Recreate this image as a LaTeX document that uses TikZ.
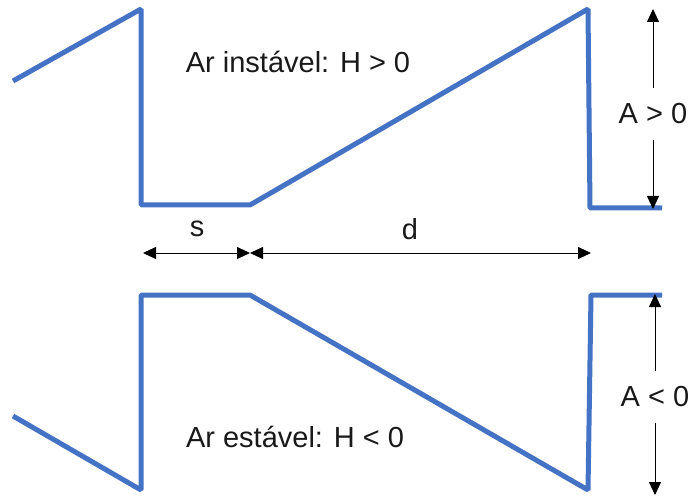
\documentclass[tikz,border=0pt]{standalone}
\usepackage{fontspec}
\setmainfont{Liberation Sans}
\usetikzlibrary{arrows.meta}
\definecolor{wave}{HTML}{4472C4}
\tikzset{
  wavy/.style={draw=wave, line width=5pt, line join=bevel},
  dim/.style={draw=black, line width=0.9pt, -{Triangle[length=13pt,width=12pt]}},
  dimboth/.style={draw=black, line width=0.9pt, {Triangle[length=13pt,width=12pt]}-{Triangle[length=13pt,width=12pt]}},
  lbl/.style={font=\fontsize{29}{32}\selectfont, inner sep=0pt, text=black!90},
  alabel/.style={lbl, inner ysep=16pt},
}
\begin{document}
\begin{tikzpicture}[x=1pt,y=-1pt]
\useasboundingbox (0,0) rectangle (691,497);
% top wave
\coordinate (p1) at (13,81);
\coordinate (p2) at (141,9);
\coordinate (p3) at (141,205);
\coordinate (p4) at (250,205);
\coordinate (p5) at (588,9);
\coordinate (p6) at (590,208);
\coordinate (p7) at (662,208);
\draw[wavy] (p1) -- (p2) -- (p3) -- (p4) -- (p5) -- (p6) -- (p7);
% bottom wave
\coordinate (q1) at (13,416);
\coordinate (q2) at (141,490);
\coordinate (q3) at (141,295);
\coordinate (q4) at (250,295);
\coordinate (q5) at (588,490);
\coordinate (q6) at (591,295);
\coordinate (q7) at (662,295);
\draw[wavy] (q1) -- (q2) -- (q3) -- (q4) -- (q5) -- (q6) -- (q7);
% texts
\node[lbl] (tinst) at (298,62) {Ar instável: H > 0};
\node[lbl] (test) at (295,437) {Ar estável: H < 0};
% A > 0
\coordinate (at) at (653,9);
\coordinate (ab) at (653,209);
\node[alabel] (apos) at (653,114) {A > 0};
\draw[dim] (apos.north) -- (at);
\draw[dim] (apos.south) -- (ab);
% A < 0
\coordinate (bt) at (655,294);
\coordinate (bb) at (655,495);
\node[alabel] (aneg) at (655,397) {A < 0};
\draw[dim] (aneg.north) -- (bt);
\draw[dim] (aneg.south) -- (bb);
% s and d
\coordinate (sl) at (143,253);
\coordinate (sm) at (250,253);
\coordinate (dr) at (591,253);
\draw[dimboth] (sl) -- (sm);
\draw[dimboth] (sm) -- (dr);
\node[lbl] (slab) at (197,229) {s};
\node[lbl] (dlab) at (410,229) {d};
\end{tikzpicture}
\end{document}
